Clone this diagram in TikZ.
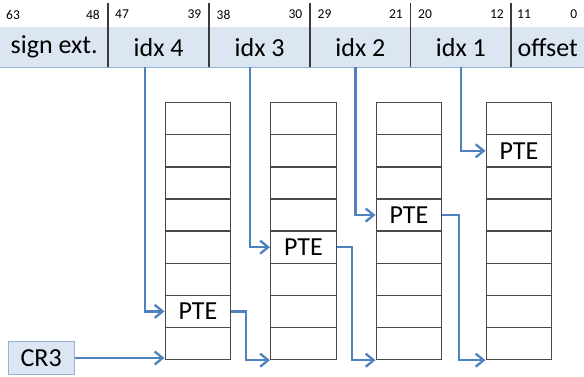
\documentclass[tikz,border=0pt]{standalone}
\usepackage{fontspec}
\setmainfont{Carlito}
\usetikzlibrary{arrows.meta}
\definecolor{fieldfill}{HTML}{DCE6F2}
\definecolor{fieldedge}{HTML}{95B3D7}
\definecolor{linkblue}{HTML}{4F81BD}
\definecolor{gridline}{HTML}{3A3A3A}
\definecolor{celledge}{HTML}{4A4A4A}
\begin{document}
\begin{tikzpicture}[x=1pt,y=-1pt,
  field/.style={fill=fieldfill, inner sep=0pt, minimum height=40pt,
    anchor=north west, font=\fontsize{26}{30}\selectfont},
  bitlabel/.style={inner sep=0pt, font=\fontsize{13.5}{16}\selectfont},
  separator/.style={draw=gridline, line width=1.1pt},
  cell/.style={draw=celledge, line width=1.3pt, inner sep=0pt,
    minimum width=65.5pt, minimum height=32.2pt, anchor=north west},
  entry/.style={inner sep=0pt, font=\fontsize{26}{30}\selectfont},
  link/.style={draw=linkblue, line width=2.3pt,
    -{Straight Barb[length=8pt,width=13pt,line width=2.3pt]}},
  regbox/.style={draw=fieldedge, fill=fieldfill, line width=1.3pt,
    minimum width=66pt, minimum height=32.5pt, inner sep=0pt,
    font=\fontsize{26}{30}\selectfont}]
\useasboundingbox (0,0) rectangle (584,377);

% virtual address fields
\node[field, minimum width=108pt] (sign) at (0,27) {sign ext.};
\node[field, minimum width=101pt] (f4) at (108,27) {idx 4};
\node[field, minimum width=101pt] (f3) at (209,27) {idx 3};
\node[field, minimum width=100.5pt] (f2) at (310,27) {idx 2};
\node[field, minimum width=100.5pt] (f1) at (410.5,27) {idx 1};
\node[field, minimum width=73pt] (off) at (511,27) {offset};
\draw[draw=fieldedge, line width=1.2pt] (sign.south west) -- (off.south east);

% field boundaries
\foreach \n in {f4,f3,f2,f1,off}
  \draw[separator] (\n.south west) -- ++(0,-64);

% bit numbers
\foreach \l/\r/\a/\b in {6/100/63/48, 115/201.5/47/39, 216.5/302.5/38/30,
                         317.5/403/29/21, 418/504/20/12, 517/577.5/11/0}{
  \node[bitlabel, anchor=west] at (\l,14.5) {\a};
  \node[bitlabel, anchor=east] at (\r,14.5) {\b};
}

% page tables
\foreach \t/\x in {1/164.5,2/270,3/375.5,4/485.5}
  \foreach \r in {0,...,7}
    \node[cell] (t\t r\r) at (\x,102+\r*32.1) {};

\node[entry] (pte1) at (t1r6) {PTE};
\node[entry] (pte2) at (t2r4) {PTE};
\node[entry] (pte3) at (t3r3) {PTE};
\node[entry] (pte4) at (t4r1) {PTE};

% index lookups
\coordinate (i4) at (145,67.5);
\coordinate (i3) at (250,67.5);
\coordinate (i2) at (355.5,67.5);
\coordinate (i1) at (461,67.5);
\draw[link] (i4) |- (t1r6.west);
\draw[link] (i3) |- (t2r4.west);
\draw[link] (i2) |- (t3r3.west);
\draw[link] (i1) |- (t4r1.west);

% next-level table bases
\draw[link] (t1r6.east) -- ++(15,0) |- (t2r7.south west);
\draw[link] (t2r4.east) -- ++(15,0) |- (t3r7.south west);
\draw[link] (t3r3.east) -- ++(17,0) |- (t4r7.south west);

% root register
\node[regbox] (cr3) at (41.2,358) {CR3};
\draw[link] (cr3.east) -- (cr3.east -| t1r7.south west);
\end{tikzpicture}
\end{document}
